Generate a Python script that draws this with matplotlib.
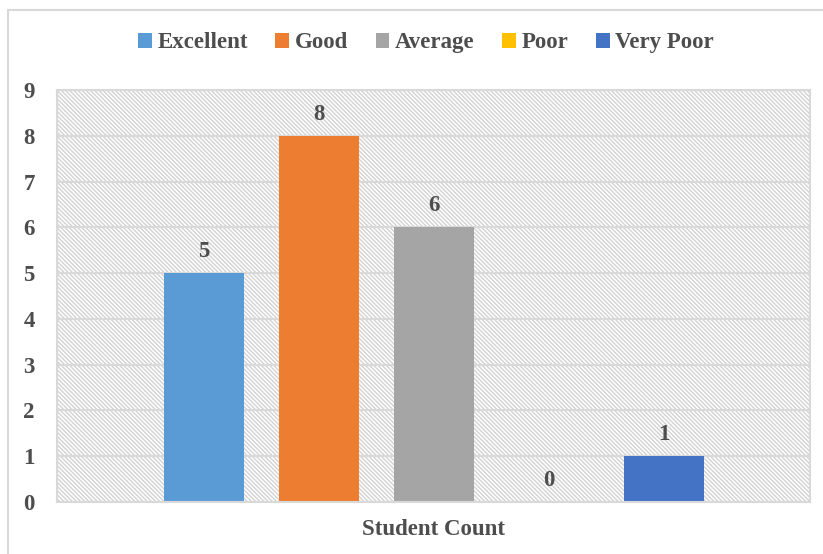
import matplotlib
matplotlib.use("Agg")
import matplotlib.pyplot as plt
from matplotlib.patches import Rectangle, Patch

categories = ["Student Count"]
series = ["Excellent", "Good", "Average", "Poor", "Very Poor"]
values = [5, 8, 6, 0, 1]
colors = ["#5B9BD5", "#ED7D31", "#A5A5A5", "#FFC000", "#4472C4"]
yticks = list(range(0, 10))

plt.rcParams['font.family'] = ['Liberation Serif', 'DejaVu Serif']
plt.rcParams['hatch.linewidth'] = 1.0
text_color = '#4d4d4d'
fs = 16.5

fig = plt.figure(figsize=(8.23, 5.54), dpi=100)
# chart border
fig.patches.append(Rectangle((8/823, -0.1), 1.1, (554-10)/554 + 0.1, transform=fig.transFigure,
                             fill=False, edgecolor='#d9d9d9', linewidth=1.5))

ax = fig.add_axes([57/823, (554-502)/554, (810-57)/823, (502-90)/554])
ax.set_xlim(-0.5, 0.5)
ax.set_ylim(0, 9)

# hatched background
ax.add_patch(Rectangle((0, 0), 1, 1, transform=ax.transAxes, facecolor='white',
                       edgecolor='#d2d2d2', hatch='\\\\\\\\\\\\\\\\', linewidth=0, zorder=0))

ax.set_yticks(yticks)
ax.yaxis.grid(True, color='#d9d9d9', linewidth=1.5, zorder=1)
ax.set_axisbelow(True)

bw = 80/753
step = 115/753
n = len(series)
for i, (s, v, c) in enumerate(zip(series, values, colors)):
    x = (i - (n - 1) / 2) * step
    ax.bar(x, v, width=bw, color=c, label=s, zorder=2)
    ax.text(x, v + 0.24, str(v), ha='center', va='bottom', fontsize=fs,
            fontweight='bold', color=text_color, zorder=3)

for sp in ax.spines.values():
    sp.set_color('#d9d9d9')
    sp.set_linewidth(1.5)

ax.set_xticks([0])
ax.set_xticklabels(categories)
ax.tick_params(axis='x', length=0, pad=12, labelsize=fs, labelcolor=text_color)
ax.tick_params(axis='y', length=0, pad=16, labelsize=fs, labelcolor=text_color)
for lab in ax.get_xticklabels() + ax.get_yticklabels():
    lab.set_fontweight('bold')

handles = [Patch(facecolor=c, edgecolor='none') for c in colors]
leg = fig.legend(handles, series, loc='center', bbox_to_anchor=(426/823, 1 - 43/554), ncol=5,
                 frameon=False, prop={'size': fs, 'weight': 'bold'},
                 handlelength=0.6, handleheight=0.6, handletextpad=0.25, columnspacing=1.2)
for t in leg.get_texts():
    t.set_color(text_color)

fig.savefig("out.png", dpi=100)
